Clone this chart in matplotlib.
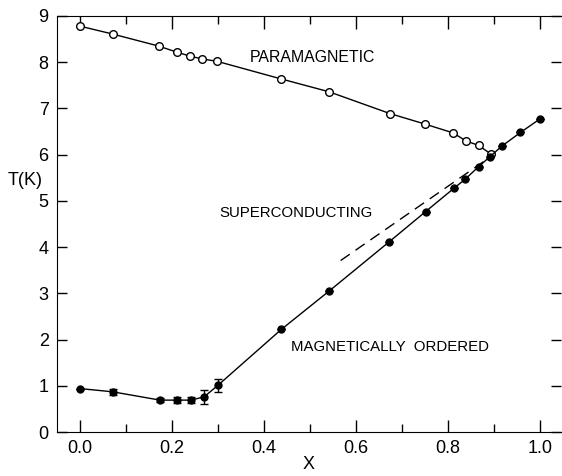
from matplotlib import pyplot as plt
from matplotlib.ticker import MultipleLocator

plt.rcParams['font.family'] = ['Liberation Sans', 'DejaVu Sans']

# paramagnetic -> superconducting boundary (open circles)
x_para = [0.0, 0.071, 0.171, 0.210, 0.240, 0.266, 0.298, 0.437, 0.542,
          0.674, 0.751, 0.812, 0.839, 0.867, 0.893]
t_para = [8.78, 8.61, 8.35, 8.22, 8.13, 8.07, 8.02, 7.64, 7.36,
          6.89, 6.66, 6.47, 6.30, 6.20, 6.02]

# magnetic ordering temperature (filled circles)
x_mag = [0.0, 0.071, 0.174, 0.212, 0.241, 0.270, 0.300, 0.438, 0.542,
         0.672, 0.752, 0.813, 0.838, 0.867, 0.891, 0.917, 0.958, 1.0]
t_mag = [0.94, 0.87, 0.69, 0.69, 0.69, 0.76, 1.01, 2.22, 3.05,
         4.11, 4.77, 5.27, 5.47, 5.74, 5.95, 6.18, 6.48, 6.77]
t_err = [0, 0.06, 0.05, 0.06, 0.07, 0.15, 0.14, 0, 0,
         0, 0, 0, 0, 0, 0, 0, 0, 0]

# extrapolated dashed line
x_dash = [0.567, 0.888]
t_dash = [3.71, 5.92]

fig = plt.figure(figsize=(5.62, 4.76), dpi=100)
ax = fig.add_axes([0.1014, 0.0924, 0.8966, 0.874])

ax.plot(x_para, t_para, '-o', color='black', mfc='white', mec='black',
        ms=5.5, lw=1.0, mew=1.0)
ax.errorbar(x_mag, t_mag, yerr=t_err, fmt='-o', color='black', ms=5,
            lw=1.0, elinewidth=1.0, capsize=3, capthick=1.0)
ax.plot(x_dash, t_dash, '--', color='black', lw=1.0, dashes=(8, 5))

ax.set_xlim(-0.05, 1.046)
ax.set_ylim(0, 9)
ax.xaxis.set_major_locator(MultipleLocator(0.2))
ax.xaxis.set_minor_locator(MultipleLocator(0.1))
ax.yaxis.set_major_locator(MultipleLocator(1))
ax.xaxis.set_major_formatter(plt.FuncFormatter(lambda v, p: '%.1f' % v))
ax.tick_params(which='both', direction='in', top=True, right=True,
               labelsize=13, width=1.0)
ax.tick_params(which='major', length=9)
ax.tick_params(which='minor', length=6)
ax.tick_params(axis='x', which='major', pad=6)
ax.tick_params(axis='y', length=7, pad=6)
ax.spines['right'].set_visible(False)

ax.text(0.37, 8.1, 'PARAMAGNETIC', fontsize=11.4, va='center')
ax.text(0.304, 4.74, 'SUPERCONDUCTING', fontsize=10.8, va='center')
ax.text(0.46, 1.85, 'MAGNETICALLY  ORDERED', fontsize=10.8, va='center')
ax.text(-0.12, 5.45, 'T(K)', fontsize=13, va='center', ha='center')
ax.set_xlabel('X', fontsize=13, labelpad=-1)

plt.savefig('out.png', dpi=100)
